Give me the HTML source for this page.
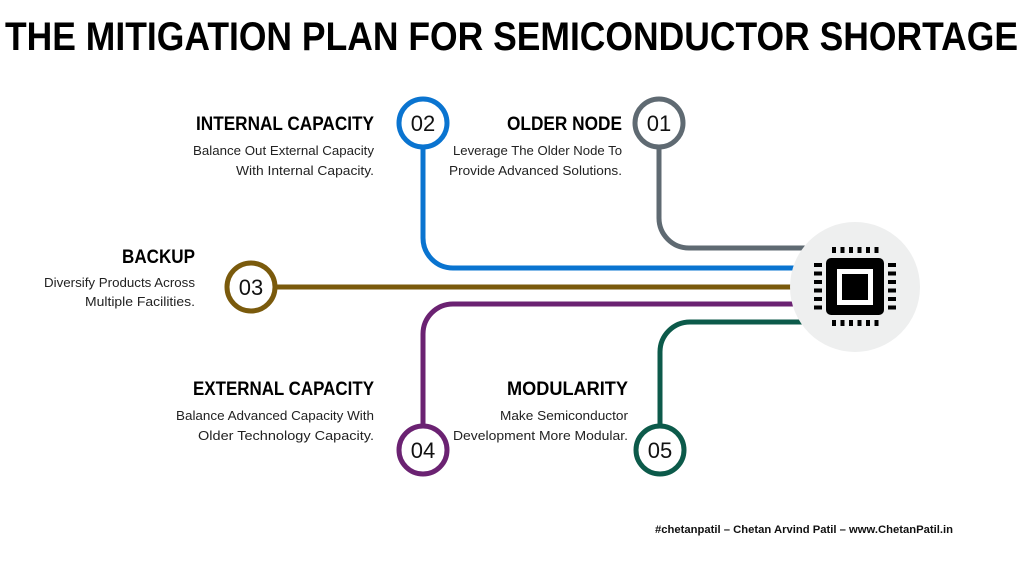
<!DOCTYPE html>
<html><head><meta charset="utf-8"><style>
html,body{margin:0;padding:0;background:#fff;width:1024px;height:576px;overflow:hidden}
svg{display:block}
text{font-family:"Liberation Sans",sans-serif}
.h{font-weight:bold;font-size:19px;fill:#000}
.b{font-size:13px;fill:#222}
.n{font-size:22px;fill:#111}
</style></head><body>
<svg width="1024" height="576" viewBox="0 0 1024 576" xmlns="http://www.w3.org/2000/svg">
<text x="5" y="50" font-size="40" font-weight="bold" textLength="1013" lengthAdjust="spacingAndGlyphs">THE MITIGATION PLAN FOR SEMICONDUCTOR SHORTAGE</text>

<g fill="none" stroke-width="5">
<path d="M659 148 V218 a30 30 0 0 0 30 30 H810" stroke="#5f6a72"/>
<path d="M423 148 V238 a30 30 0 0 0 30 30 H810" stroke="#0a74d0"/>
<path d="M276 287 H810" stroke="#7a5a0c"/>
<path d="M423 425 V334 a30 30 0 0 1 30 -30 H810" stroke="#6b2272"/>
<path d="M660 425 V352 a30 30 0 0 1 30 -30 H810" stroke="#0c5a4a"/>
</g>

<circle cx="855" cy="287" r="65" fill="#eeefef"/>
<rect x="826" y="258" width="58" height="57" rx="5" fill="#000"/>
<rect x="837" y="269" width="36" height="36" fill="#fff"/>
<rect x="842" y="274" width="26" height="26" fill="#000"/>
<g fill="#000">
<rect x="832" y="247" width="4" height="6"/><rect x="840.5" y="247" width="4" height="6"/><rect x="849" y="247" width="4" height="6"/><rect x="857.5" y="247" width="4" height="6"/><rect x="866" y="247" width="4" height="6"/><rect x="874.5" y="247" width="4" height="6"/>
<rect x="832" y="320" width="4" height="6"/><rect x="840.5" y="320" width="4" height="6"/><rect x="849" y="320" width="4" height="6"/><rect x="857.5" y="320" width="4" height="6"/><rect x="866" y="320" width="4" height="6"/><rect x="874.5" y="320" width="4" height="6"/>
<rect x="814" y="263" width="8" height="4"/><rect x="814" y="271.5" width="8" height="4"/><rect x="814" y="280" width="8" height="4"/><rect x="814" y="288.5" width="8" height="4"/><rect x="814" y="297" width="8" height="4"/><rect x="814" y="305.5" width="8" height="4"/>
<rect x="888" y="263" width="8" height="4"/><rect x="888" y="271.5" width="8" height="4"/><rect x="888" y="280" width="8" height="4"/><rect x="888" y="288.5" width="8" height="4"/><rect x="888" y="297" width="8" height="4"/><rect x="888" y="305.5" width="8" height="4"/>
</g>

<g fill="#fff" stroke-width="5">
<circle cx="423" cy="123" r="24" stroke="#0a74d0"/>
<circle cx="659" cy="123" r="24" stroke="#5f6a72"/>
<circle cx="251" cy="287" r="24" stroke="#7a5a0c"/>
<circle cx="423" cy="450" r="24" stroke="#6b2272"/>
<circle cx="660" cy="450" r="24" stroke="#0c5a4a"/>
</g>
<g class="n" text-anchor="middle">
<text x="423" y="131">02</text>
<text x="659" y="131">01</text>
<text x="251" y="295">03</text>
<text x="423" y="458">04</text>
<text x="660" y="458">05</text>
</g>

<text class="h" x="196" y="130" textLength="178" lengthAdjust="spacingAndGlyphs">INTERNAL CAPACITY</text>
<text class="b" x="193" y="155" textLength="181" lengthAdjust="spacingAndGlyphs">Balance Out External Capacity</text>
<text class="b" x="236" y="175" textLength="138" lengthAdjust="spacingAndGlyphs">With Internal Capacity.</text>

<text class="h" x="507" y="130" textLength="115" lengthAdjust="spacingAndGlyphs">OLDER NODE</text>
<text class="b" x="453" y="155" textLength="169" lengthAdjust="spacingAndGlyphs">Leverage The Older Node To</text>
<text class="b" x="449" y="175" textLength="173" lengthAdjust="spacingAndGlyphs">Provide Advanced Solutions.</text>

<text class="h" x="122" y="263" textLength="73" lengthAdjust="spacingAndGlyphs">BACKUP</text>
<text class="b" x="44" y="287" textLength="151" lengthAdjust="spacingAndGlyphs">Diversify Products Across</text>
<text class="b" x="85" y="306" textLength="110" lengthAdjust="spacingAndGlyphs">Multiple Facilities.</text>

<text class="h" x="193" y="395" textLength="181" lengthAdjust="spacingAndGlyphs">EXTERNAL CAPACITY</text>
<text class="b" x="176" y="420" textLength="198" lengthAdjust="spacingAndGlyphs">Balance Advanced Capacity With</text>
<text class="b" x="198" y="440" textLength="176" lengthAdjust="spacingAndGlyphs">Older Technology Capacity.</text>

<text class="h" x="507" y="395" textLength="121" lengthAdjust="spacingAndGlyphs">MODULARITY</text>
<text class="b" x="500" y="420" textLength="128" lengthAdjust="spacingAndGlyphs">Make Semiconductor</text>
<text class="b" x="453" y="440" textLength="175" lengthAdjust="spacingAndGlyphs">Development More Modular.</text>

<text x="655" y="533" font-size="11" font-weight="bold" fill="#111" textLength="298" lengthAdjust="spacingAndGlyphs">#chetanpatil – Chetan Arvind Patil – www.ChetanPatil.in</text>
</svg>
</body></html>
